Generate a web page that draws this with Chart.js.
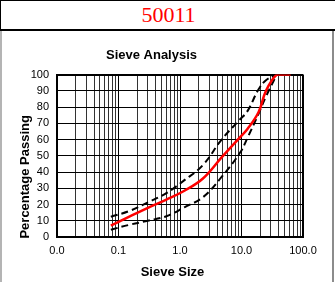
<!DOCTYPE html>
<html>
<head>
<meta charset="utf-8">
<script src="https://cdn.jsdelivr.net/npm/chart.js@4.4.0/dist/chart.umd.min.js"></script>
<style>
html, body { margin: 0; padding: 0; width: 335px; height: 282px; overflow: hidden; background: #fff; }
#head {
    position: absolute; left: 0; top: 0; width: 335px; height: 28px;
    border-top: 1px solid #000; border-left: 1px solid #000; border-bottom: 2px solid #000;
    font-family: 'Liberation Serif', 'Times New Roman', serif; font-size: 22px; color: #ff0000;
    text-align: center; line-height: 28px;
}
#chart { position: absolute; left: 0; top: 31px; }
#panel {
    position: absolute; left: 0; top: 31px; width: 330px; height: 260px;
    border-left: 2px solid #b4b4b4; border-right: 2px solid #8c8c8c;
    pointer-events: none; z-index: 2;
}
</style>
</head>
<body>
<div id="head">50011</div>
<canvas id="chart" width="345" height="251"></canvas>
<div id="panel"></div>
<script>
// 篩分數據
var sieveSizes = [0.075, 0.15, 0.3, 0.6, 1.18, 2.36, 4.75, 9.5, 12.5, 19, 25, 37.5, 50, 63];
var passing    = [7, 12.5, 18, 23, 28.5, 36, 49, 61.5, 66.5, 77, 90, 100, 100, 100];
var upperLimit = [12.5, 16, 21.3, 27, 35, 44.3, 60, 72.5, 77.5, 91, 96.5, 100];
var lowerLimit = [4.5, 7.5, 10, 12.8, 18.3, 24.5, 37, 52, 61, 76, 86.5, 100];

// 軸設定
var xDecades = [0.01, 0.1, 1, 10, 100];
var xDecadeLabels = ['0.0', '0.1', '1.0', '10.0', '100.0'];
var xMinorSteps = [2, 3, 4, 5, 6, 7, 8, 9];
var yTicks = [0, 10, 20, 30, 40, 50, 60, 70, 80, 90, 100];

var chartTitle = 'Sieve Analysis';
var xTitle = 'Sieve Size';
var yTitle = 'Percentage Passing';

var FONT = '"Liberation Sans", Arial, sans-serif';

// 對數軸的全部刻度（十進位 + 2..9）
var xTickValues = [];
xDecades.forEach(function(d, i) {
    xTickValues.push(d);
    if (i < xDecades.length - 1) {
        xMinorSteps.forEach(function(m) { xTickValues.push(+(d * m).toPrecision(6)); });
    }
});

function isDecade(v) {
    return xDecades.some(function(d) { return Math.abs(d - v) < 1e-9; });
}

function toPoints(values) {
    return values.map(function(v, i) { return { x: sieveSizes[i], y: v }; });
}

// 軸標題（位置照原圖微調）
var axisTitles = {
    id: 'axisTitles',
    afterDraw: function(chart) {
        var ctx = chart.ctx;
        var area = chart.chartArea;
        ctx.save();
        ctx.fillStyle = '#000';
        ctx.font = 'bold 13px ' + FONT;
        ctx.textAlign = 'center';
        ctx.textBaseline = 'middle';
        ctx.fillText(xTitle, (area.left + area.right) / 2 - 7.5, area.bottom + 35);
        ctx.translate(area.left - 32, (area.top + area.bottom) / 2 + 21);
        ctx.rotate(-Math.PI / 2);
        ctx.fillText(yTitle, 0, 0);
        ctx.restore();
    }
};

var ctx = document.getElementById('chart').getContext('2d');
var sieveChart = new Chart(ctx, {
    type: 'line',
    data: {
        datasets: [
            {
                label: 'Passing',
                data: toPoints(passing),
                borderColor: '#ff0000',
                borderWidth: 2.5,
                pointRadius: 0,
                fill: false,
                tension: 0.4
            },
            {
                label: 'Upper',
                data: toPoints(upperLimit),
                borderColor: '#000',
                borderWidth: 2,
                borderDash: [7, 4],
                pointRadius: 0,
                fill: false,
                tension: 0.4
            },
            {
                label: 'Lower',
                data: toPoints(lowerLimit),
                borderColor: '#000',
                borderWidth: 2,
                borderDash: [7, 4],
                pointRadius: 0,
                fill: false,
                tension: 0.4
            }
        ]
    },
    options: {
        responsive: false,
        animation: false,
        layout: { padding: { left: 0, right: 42, top: 0, bottom: 0 } },
        plugins: {
            legend: { display: false },
            tooltip: { enabled: false },
            title: {
                display: true,
                text: chartTitle,
                color: '#000',
                font: { family: FONT, size: 13, weight: 'bold', lineHeight: 1.2 },
                padding: { top: 17, bottom: 11 }
            }
        },
        scales: {
            x: {
                type: 'logarithmic',
                min: 0.01,
                max: 100,
                afterBuildTicks: function(scale) {
                    scale.ticks = xTickValues.map(function(v) { return { value: v }; });
                },
                afterFit: function(scale) { scale.height = 45; },
                grid: {
                    drawTicks: false,
                    color: function(c) { return c.tick && isDecade(c.tick.value) ? '#000' : '#333'; },
                    lineWidth: function(c) {
                        return c.tick && c.tick.value === 100 ? 2 : 1;
                    }
                },
                border: { color: '#000', width: 2 },
                ticks: {
                    autoSkip: false,
                    maxRotation: 0,
                    padding: 7,
                    color: '#000',
                    font: { family: FONT, size: 11 },
                    callback: function(value) {
                        var i = xDecades.findIndex(function(d) { return Math.abs(d - value) < 1e-9; });
                        return i >= 0 ? xDecadeLabels[i] : '';
                    }
                }
            },
            y: {
                min: 0,
                max: 100,
                afterBuildTicks: function(scale) {
                    scale.ticks = yTicks.map(function(v) { return { value: v }; });
                },
                afterFit: function(scale) { scale.width = 57; },
                grid: {
                    drawTicks: false,
                    color: '#000',
                    lineWidth: function(c) {
                        return c.tick && c.tick.value === 100 ? 2 : 1;
                    }
                },
                border: { color: '#000', width: 2 },
                ticks: {
                    padding: 8,
                    color: '#000',
                    font: { family: FONT, size: 11 }
                }
            }
        }
    },
    plugins: [axisTitles]
});
</script>
</body>
</html>
